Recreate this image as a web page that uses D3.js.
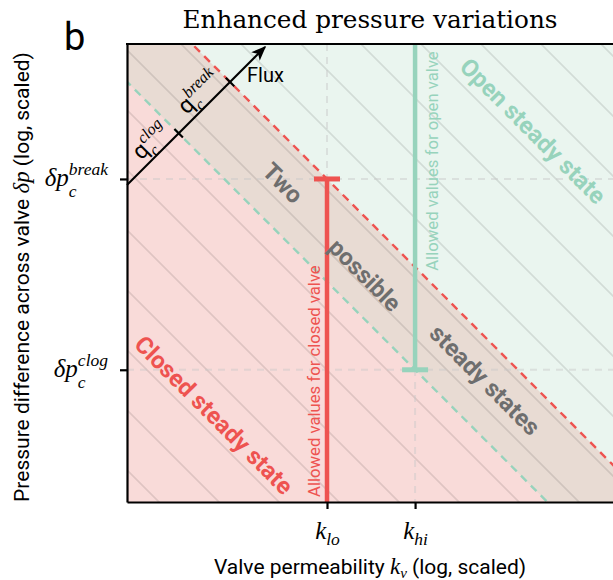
<!DOCTYPE html>
<html>
<head>
<meta charset="utf-8">
<script src="https://cdn.jsdelivr.net/npm/d3@7"></script>
<style>
  body { margin: 0; background: #fff; }
</style>
</head>
<body>
<svg id="chart"></svg>
<script>
// critical values (arbitrary units, both axes log scaled)
const kTicks = [100, 760];            // k_lo, k_hi
const kTickSubs = ["lo", "hi"];
const dpTicks = [21, 1700];           // dp_c^clog, dp_c^break
const dpTickSups = ["clog", "break"];
// boundaries: constant flux q = k * dp
const qBounds = [kTicks[1] * dpTicks[0], kTicks[0] * dpTicks[1]];   // q_clog, q_break
// background iso-flux hatch lines (log10 q)
const hatchExp = [0.32, 0.92, 1.52, 2.12, 2.72, 3.32, 3.92, 4.52, 5.12, 5.72,
                  6.32, 6.92, 7.52, 8.12, 8.72, 9.32, 9.92];

const W = 613, H = 580;
const margin = {top: 44, left: 127, bottom: 78};
const plotRight = 650;   // plot runs past the right edge of the page

const SANS = "Roboto, 'Noto Sans', sans-serif";
const SERIF = "'Liberation Serif', 'DejaVu Serif', serif";

const col = {
    closed: "#f9dbd9", two: "#e8dbd3", open: "#eaf5ef",
    red: "#ee5350", green: "#97d3bc", gray: "#6e6e6e"
};

const svg = d3.select("#chart")
    .attr("width", W).attr("height", H)
    .attr("font-family", SANS);

const x = d3.scaleLog().domain([1, Math.pow(10, 5.23)]).range([margin.left, plotRight]);
const y = d3.scaleLog().domain([1, Math.pow(10, 4.58)]).range([H - margin.bottom, margin.top]);

const kMin = 1e-2, kMax = 1e8, dpMin = 1e-3, dpMax = 1e8;

const defs = svg.append("defs");
defs.append("clipPath").attr("id", "clip")
  .append("rect")
    .attr("x", margin.left).attr("y", margin.top)
    .attr("width", plotRight - margin.left)
    .attr("height", H - margin.bottom - margin.top);

defs.append("marker")
    .attr("id", "arrow").attr("viewBox", "0 0 10 10")
    .attr("refX", 9).attr("refY", 5)
    .attr("markerWidth", 15).attr("markerHeight", 15)
    .attr("markerUnits", "userSpaceOnUse")
    .attr("orient", "auto")
  .append("path").attr("d", "M0,1 L10,5 L0,9 L2.5,5 Z").attr("fill", "#000");

const plot = svg.append("g").attr("clip-path", "url(#clip)");
const line = d3.line().x(d => x(d[0])).y(d => y(d[1]));

// regions
plot.append("rect")
    .attr("x", margin.left).attr("y", margin.top)
    .attr("width", plotRight - margin.left)
    .attr("height", H - margin.bottom - margin.top)
    .attr("fill", col.open);

const below = q => [[kMin, q / kMin], [kMax, q / kMax], [kMax, dpMin], [kMin, dpMin]];
plot.append("path").attr("d", line(below(qBounds[1])) + "Z").attr("fill", col.two);
plot.append("path").attr("d", line(below(qBounds[0])) + "Z").attr("fill", col.closed);

// hatch lines of constant flux
plot.selectAll(".hatch")
  .data(hatchExp)
  .join("path")
    .attr("class", "hatch")
    .attr("d", e => { const q = Math.pow(10, e); return line([[kMin, q / kMin], [kMax, q / kMax]]); })
    .attr("stroke", "rgba(0,0,0,0.1)")
    .attr("stroke-width", 1.8)
    .attr("fill", "none");

// dashed grid at the critical values
plot.selectAll(".gridx")
  .data(kTicks)
  .join("line")
    .attr("x1", d => x(d)).attr("x2", d => x(d))
    .attr("y1", margin.top).attr("y2", H - margin.bottom)
    .attr("stroke", "rgba(200,200,200,0.45)")
    .attr("stroke-width", 2).attr("stroke-dasharray", "7,6");
plot.selectAll(".gridy")
  .data(dpTicks)
  .join("line")
    .attr("x1", margin.left).attr("x2", plotRight)
    .attr("y1", d => y(d)).attr("y2", d => y(d))
    .attr("stroke", "rgba(200,200,200,0.45)")
    .attr("stroke-width", 2).attr("stroke-dasharray", "7,6");

// boundary lines
plot.selectAll(".bound")
  .data(qBounds)
  .join("path")
    .attr("d", q => line([[kMin, q / kMin], [kMax, q / kMax]]))
    .attr("stroke", (d, i) => i === 0 ? col.green : col.red)
    .attr("stroke-width", 2.4)
    .attr("stroke-dasharray", "8,6")
    .attr("fill", "none");

// allowed value bars
const bars = [
    {k: kTicks[0], from: dpTicks[1], to: dpMin, cap: dpTicks[1], color: col.red},
    {k: kTicks[1], from: dpMax, to: dpTicks[0], cap: dpTicks[0], color: col.green}
];
plot.selectAll(".bar")
  .data(bars)
  .join("line")
    .attr("x1", d => x(d.k)).attr("x2", d => x(d.k))
    .attr("y1", d => y(d.from)).attr("y2", d => y(d.to))
    .attr("stroke", d => d.color).attr("stroke-width", 4.5);
plot.selectAll(".cap")
  .data(bars)
  .join("line")
    .attr("x1", d => x(d.k) - 13).attr("x2", d => x(d.k) + 13)
    .attr("y1", d => y(d.cap)).attr("y2", d => y(d.cap))
    .attr("stroke", d => d.color).attr("stroke-width", 5);

plot.append("text")
    .attr("transform", `translate(${x(kTicks[0]) - 7},${H - margin.bottom - 5}) rotate(-90)`)
    .attr("fill", col.red).attr("font-size", 16.7)
    .text("Allowed values for closed valve");
plot.append("text")
    .attr("transform", `translate(${x(kTicks[1]) + 23},${y(dpTicks[0]) - 99}) rotate(-90)`)
    .attr("fill", col.green).attr("font-size", 16.7)
    .text("Allowed values for open valve");

// region labels, placed along iso-flux lines
const regionLabels = [
    {text: "Closed steady state", lk: 0.87, ldp: 0.87, color: col.red},
    {text: "Open steady state", lk: 4.06, ldp: 3.71, color: col.green},
    {text: "Two", lk: 1.56, ldp: 3.19, color: col.gray},
    {text: "possible", lk: 2.38, ldp: 2.27, color: col.gray},
    {text: "steady states", lk: 3.58, ldp: 1.22, color: col.gray}
];
plot.selectAll(".rlabel")
  .data(regionLabels)
  .join("text")
    .attr("transform", d => `translate(${x(Math.pow(10, d.lk))},${y(Math.pow(10, d.ldp))}) rotate(45)`)
    .attr("text-anchor", "middle").attr("dy", "0.35em")
    .attr("font-weight", "bold").attr("font-size", 24)
    .attr("fill", d => d.color)
    .text(d => d.text);

// math label helper: base with optional sub and superscript
function addMath(g, base, sub, sup, o) {
    const t = g.append("text")
        .attr("font-family", SERIF)
        .attr("font-style", "italic")
        .attr("font-size", o.size)
        .attr("text-anchor", "start")
        .attr("fill", "#000");
    const b = t.append("tspan").text(base);
    if (o.baseSans) b.attr("font-family", SANS).attr("font-style", "normal");
    const w = t.node().getComputedTextLength();
    let wSup = 0, wSub = 0;
    if (sup) {
        const s = t.append("tspan").attr("x", w).attr("y", -o.size * 0.45)
            .attr("font-size", o.size * 0.7).text(sup);
        wSup = s.node().getComputedTextLength();
    }
    if (sub) {
        const s = t.append("tspan").attr("x", w).attr("y", o.size * (o.subDy || 0.42))
            .attr("font-size", o.size * 0.7).text(sub);
        wSub = s.node().getComputedTextLength();
    }
    return {text: t, width: w + Math.max(wSup, wSub)};
}

// flux arrow
const fluxStart = [1, 1480], fluxEnd = [24, 35500];
const fluxG = svg.append("g");
fluxG.append("line")
    .attr("x1", x(fluxStart[0])).attr("y1", y(fluxStart[1]))
    .attr("x2", x(fluxEnd[0])).attr("y2", y(fluxEnd[1]))
    .attr("stroke", "#000").attr("stroke-width", 2)
    .attr("marker-end", "url(#arrow)");
// tick where the flux line crosses each boundary (dp = ratio * k)
const ratio = fluxStart[1] / fluxStart[0];
qBounds.forEach((q, i) => {
    const k = Math.sqrt(q / ratio), dp = ratio * k;
    const g = fluxG.append("g").attr("transform", `translate(${x(k)},${y(dp)}) rotate(-45)`);
    g.append("line").attr("x1", 0).attr("x2", 0).attr("y1", -6).attr("y2", 6)
        .attr("stroke", "#000").attr("stroke-width", 2.2);
    const m = addMath(g, "q", "c", dpTickSups[i], {size: 23, baseSans: true, subDy: 0.3});
    m.text.attr("transform", `translate(${-m.width - 5},-7)`);
});
fluxG.append("text")
    .attr("x", 247).attr("y", 82)
    .attr("font-size", 20).text("Flux");

// axes
const yAxis = d3.axisLeft(y).tickValues(dpTicks).tickFormat("").tickSize(7).tickSizeOuter(0);
const xAxis = d3.axisBottom(x).tickValues(kTicks).tickFormat("").tickSize(7).tickSizeOuter(0);

const yG = svg.append("g").attr("transform", `translate(${margin.left},0)`).call(yAxis);
const xG = svg.append("g").attr("transform", `translate(0,${H - margin.bottom})`).call(xAxis);
[yG, xG].forEach(g => {
    g.select(".domain").attr("stroke-width", 2.2);
    g.selectAll(".tick line").attr("stroke-width", 2.2);
});
svg.append("line")
    .attr("x1", margin.left - 1).attr("x2", plotRight)
    .attr("y1", margin.top).attr("y2", margin.top)
    .attr("stroke", "#000").attr("stroke-width", 2.2);

yG.selectAll(".tick").each(function(d, i) {
    const m = addMath(d3.select(this), "\u03b4p", "c", dpTickSups[i], {size: 25});
    m.text.attr("transform", `translate(${-19 - m.width},7)`);
});
xG.selectAll(".tick").each(function(d, i) {
    const m = addMath(d3.select(this), "k", kTickSubs[i], null, {size: 25, subDy: 0.25});
    m.text.attr("transform", `translate(${-m.width / 2},37)`);
});

// axis titles
const yt = svg.append("text")
    .attr("transform", "translate(29,277) rotate(-90)")
    .attr("text-anchor", "middle").attr("font-size", 21);
yt.append("tspan").text("Pressure difference across valve ");
yt.append("tspan").attr("font-family", SERIF).attr("font-style", "italic")
    .attr("font-size", 23).text("\u03b4p");
yt.append("tspan").text(" (log, scaled)");

const xt = svg.append("text")
    .attr("x", 370).attr("y", 574)
    .attr("text-anchor", "middle").attr("font-size", 21);
xt.append("tspan").text("Valve permeability ");
xt.append("tspan").attr("font-family", SERIF).attr("font-style", "italic")
    .attr("font-size", 23).text("k");
xt.append("tspan").attr("font-family", SERIF).attr("font-style", "italic")
    .attr("font-size", 15).attr("dy", 4).text("v");
xt.append("tspan").attr("dy", -4).text(" (log, scaled)");

// title and panel letter
svg.append("text")
    .attr("x", 370).attr("y", 28)
    .attr("text-anchor", "middle")
    .attr("font-family", "'DejaVu Serif', serif")
    .attr("font-size", 24)
    .attr("textLength", 375)
    .attr("lengthAdjust", "spacingAndGlyphs")
    .text("Enhanced pressure variations");
svg.append("text")
    .attr("x", 64).attr("y", 50)
    .attr("font-size", 38)
    .text("b");
</script>
</body>
</html>
